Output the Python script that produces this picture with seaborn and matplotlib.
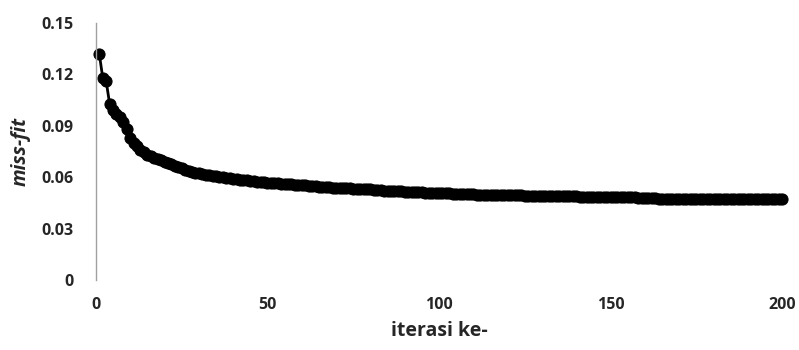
import numpy as np
import pandas as pd
import matplotlib
matplotlib.use("Agg")
import matplotlib.pyplot as plt
import seaborn as sns

iterations = list(range(1, 201))
missfit = [
    0.132, 0.118, 0.116, 0.103, 0.099, 0.097, 0.095, 0.092, 0.088, 0.083,
    0.080, 0.078, 0.076, 0.0745, 0.073, 0.0722, 0.0715, 0.0706, 0.0698, 0.0690,
    0.0683, 0.0676, 0.0668, 0.0660, 0.0652, 0.0645, 0.0638, 0.0632, 0.0627, 0.0622,
    0.0618, 0.0614, 0.0611, 0.0609, 0.0607, 0.0604, 0.0600, 0.0596, 0.0593, 0.0590,
    0.0587, 0.0585, 0.0583, 0.0581, 0.0579, 0.0577, 0.0575, 0.0573, 0.0571, 0.0569,
    0.0567, 0.0566, 0.0564, 0.0563, 0.0561, 0.0560, 0.0558, 0.0557, 0.0556, 0.0554,
    0.0553, 0.0551, 0.0549, 0.0547, 0.0545, 0.0543, 0.0542, 0.0541, 0.0540, 0.0539,
    0.0538, 0.0537, 0.0536, 0.0535, 0.0534, 0.0533, 0.0532, 0.0531, 0.0530, 0.0529,
    0.0527, 0.0525, 0.0523, 0.0522, 0.0521, 0.0520, 0.0519, 0.0518, 0.0517, 0.0516,
    0.0515, 0.0514, 0.0513, 0.0512, 0.0511, 0.0510, 0.0510, 0.0509, 0.0509, 0.0508,
    0.0508, 0.0507, 0.0506, 0.0505, 0.0504, 0.0503, 0.0502, 0.0501, 0.0500, 0.0500,
    0.0499, 0.0499, 0.0498, 0.0498, 0.0497, 0.0497, 0.0497, 0.0496, 0.0496, 0.0496,
    0.0495, 0.0495, 0.0494, 0.0494, 0.0493, 0.0493, 0.0492, 0.0492, 0.0491, 0.0491,
    0.0490, 0.0490, 0.0490, 0.0489, 0.0489, 0.0489, 0.0488, 0.0488, 0.0488, 0.0488,
    0.0487, 0.0487, 0.0487, 0.0487, 0.0486, 0.0486, 0.0486, 0.0486, 0.0485, 0.0485,
    0.0485, 0.0484, 0.0484, 0.0483, 0.0483, 0.0482, 0.0482, 0.0481, 0.0480, 0.0479,
    0.0478, 0.0477, 0.0476, 0.0475, 0.0474, 0.0473, 0.0473, 0.0473, 0.0473, 0.0473,
    0.0473, 0.0473, 0.0472, 0.0472, 0.0472, 0.0472, 0.0472, 0.0472, 0.0472, 0.0472,
    0.0472, 0.0472, 0.0472, 0.0472, 0.0472, 0.0472, 0.0472, 0.0472, 0.0472, 0.0472,
    0.0472, 0.0472, 0.0472, 0.0472, 0.0472, 0.0472, 0.0472, 0.0471, 0.0471, 0.0471,
]
xticks = [0, 50, 100, 150, 200]
yticks = [0, 0.03, 0.06, 0.09, 0.12, 0.15]
ytick_labels = ["0", "0.03", "0.06", "0.09", "0.12", "0.15"]

sns.set_style("white")
plt.rcParams["font.family"] = ["Open Sans", "DejaVu Sans"]

df = pd.DataFrame({"iter": iterations, "missfit": missfit})

fig = plt.figure(figsize=(7.99, 3.5), dpi=100)
ax = fig.add_axes([0.120, 0.200, 0.859, 0.734])
sns.lineplot(data=df, x="iter", y="missfit", ax=ax, color="black",
             marker="o", markersize=8, markeredgecolor="black",
             linewidth=2, clip_on=False)

ax.set_xlim(0, 200)
ax.set_ylim(0, 0.15)
ax.set_xticks(xticks)
ax.set_yticks(yticks)
ax.set_yticklabels(ytick_labels)
ax.tick_params(axis="both", length=0, labelsize=11.5)
ax.tick_params(axis="y", pad=16)
ax.tick_params(axis="x", pad=12)
for lab in ax.get_xticklabels() + ax.get_yticklabels():
    lab.set_fontweight("bold")

for s in ["top", "right", "bottom"]:
    ax.spines[s].set_visible(False)
ax.spines["left"].set_color("#a0a0a0")
ax.spines["left"].set_linewidth(1)

ax.set_xlabel("iterasi ke-", fontsize=14, fontweight="bold", labelpad=6)
ax.set_ylabel("miss-fit", fontsize=14, fontweight="bold", fontstyle="italic", labelpad=8)

fig.savefig("out.png", dpi=100)
